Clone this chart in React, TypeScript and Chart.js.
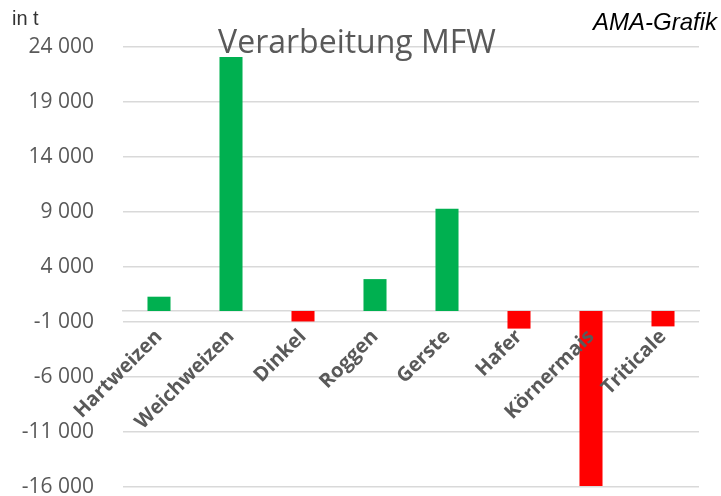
import React, { useEffect, useRef } from "react";
import { Chart, registerables } from "chart.js";

Chart.register(...registerables);

const categories = ["Hartweizen", "Weichweizen", "Dinkel", "Roggen", "Gerste", "Hafer", "Körnermais", "Triticale"];
const values = [1300, 23100, -950, 2900, 9300, -1600, -15900, -1400];
const yTicks = [-16000, -11000, -6000, -1000, 4000, 9000, 14000, 19000, 24000];
const titleText = "Verarbeitung MFW";
const unitText = "in t";
const sourceText = "AMA-Grafik";

const GREEN = "#00B050";
const RED = "#FF0000";
const GRID = "#d9d9d9";
const TEXT = "#595959";

function fmt(v: number): string {
  const s = Math.abs(v).toString().replace(/\B(?=(\d{3})+(?!\d))/g, " ");
  return (v < 0 ? "-" : "") + s;
}

const textPlugin = {
  id: "extraTexts",
  afterDraw(chart: any) {
    const ctx = chart.ctx;
    ctx.save();
    ctx.fillStyle = TEXT;
    ctx.font = '32px "Open Sans"';
    ctx.textAlign = "center";
    ctx.textBaseline = "alphabetic";
    ctx.fillText(titleText, 357, 53);
    ctx.fillStyle = "#333333";
    ctx.font = '20px "Liberation Sans"';
    ctx.textAlign = "left";
    ctx.fillText(unitText, 12, 25);
    ctx.fillStyle = "#000000";
    ctx.font = 'italic 24px "Liberation Sans"';
    ctx.textAlign = "right";
    ctx.fillText(sourceText, 717, 30);
    ctx.restore();
  },
};

export default function App() {
  const ref = useRef<HTMLCanvasElement | null>(null);
  useEffect(() => {
    document.body.style.margin = "0";
    const canvas = ref.current;
    if (!canvas) return;
    const chart = new Chart(canvas, {
      type: "bar",
      data: {
        labels: categories,
        datasets: [
          {
            data: values,
            backgroundColor: values.map((v) => (v >= 0 ? GREEN : RED)),
            borderWidth: 0,
            barPercentage: 0.32,
            categoryPercentage: 1,
          },
        ],
      },
      options: {
        responsive: false,
        animation: false,
        layout: { padding: { top: 47, bottom: 9, right: 22, left: 0 } },
        plugins: {
          legend: { display: false },
          title: { display: false },
          tooltip: { enabled: false },
        },
        scales: {
          x: {
            axis: "x",
            position: { y: 0 } as any,
            grid: { display: false, drawTicks: false },
            border: { display: true, color: GRID, width: 1.5 },
            ticks: {
              z: 1,
              autoSkip: false,
              minRotation: 45,
              maxRotation: 45,
              padding: 14,
              color: TEXT,
              font: { family: "Open Sans", size: 20, weight: "bold" },
            },
          },
          y: {
            min: -16000,
            max: 24000,
            afterBuildTicks: (scale: any) => {
              scale.ticks = yTicks.map((v) => ({ value: v }));
            },
            afterFit: (scale: any) => {
              scale.width = 123;
              scale.paddingTop = 0;
              scale.paddingBottom = 0;
            },
            grid: { color: GRID, lineWidth: 1.5, drawTicks: false },
            border: { display: false },
            ticks: {
              padding: 29,
              color: TEXT,
              font: { family: "Open Sans", size: 21 },
              callback: (v: any) => fmt(Number(v)),
            },
          },
        },
      },
      plugins: [textPlugin],
    });
    return () => chart.destroy();
  }, []);
  return <canvas ref={ref} width={721} height={496} style={{ display: "block" }} />;
}
